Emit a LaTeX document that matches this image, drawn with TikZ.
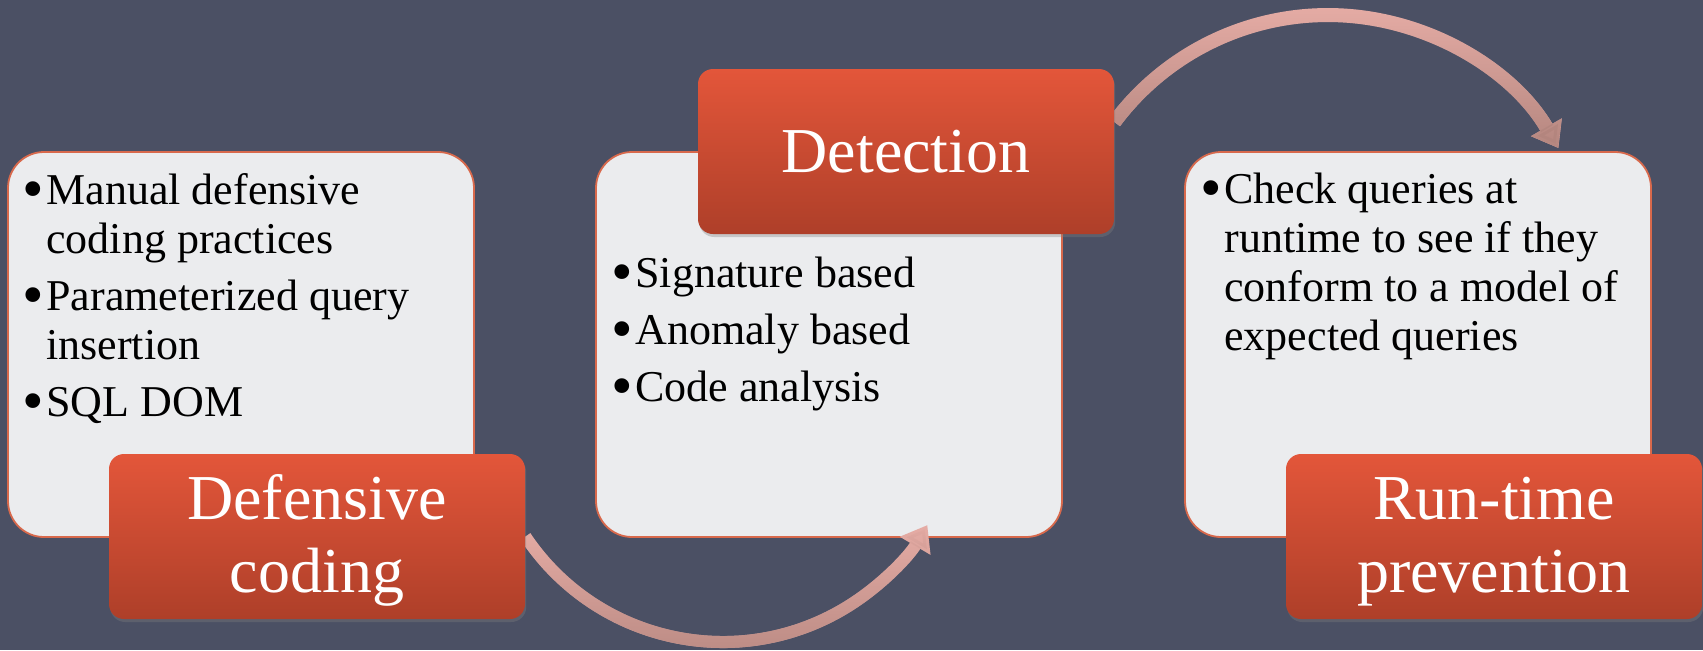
\documentclass[tikz,border=0pt]{standalone}
\usepackage{fontspec}
\setmainfont{Liberation Serif}
\usetikzlibrary{arrows.meta,shadows,fadings}
\definecolor{slate}{HTML}{4B5064}
\definecolor{cardgray}{HTML}{EBECEE}
\definecolor{cardline}{HTML}{D8694C}
\definecolor{redtop}{HTML}{E3563A}
\definecolor{redbot}{HTML}{AE3F29}
\definecolor{arrlight}{HTML}{E8AEA7}
\definecolor{arrdark}{HTML}{B3857E}
\tikzfading[name=fadeup,top color=transparent!100,bottom color=transparent!0]
\pgfdeclarelayer{back}
\pgfdeclarelayer{mid}
\pgfsetlayers{back,mid,main}
\newcommand{\itemtext}{\fontsize{22}{24.5}\selectfont}
\newcommand{\headtext}{\fontsize{32}{36.5}\selectfont}
\newcommand{\bul}{\raisebox{-2.6pt}{\scalebox{1.4}{\textbullet}}}
\newcommand{\headstrut}{\rule{0pt}{26.4pt}}

\begin{document}
\begin{tikzpicture}[x=0.5pt,y=-0.5pt,
  card/.style={draw=cardline,line width=0.9pt,fill=cardgray,rounded corners=18pt,
    minimum width=233pt,minimum height=192.5pt},
  head/.style={rounded corners=7.5pt,top color=redtop,bottom color=redbot,text=white,
    font=\headtext,align=center,minimum width=208pt,minimum height=82.5pt,
    drop shadow={shadow xshift=0.6pt,shadow yshift=-1.5pt,opacity=0.35}},
  items/.style={anchor=base west,inner sep=0pt,font=\itemtext},
  flow/.style={line width=7pt,draw=arrlight,-{Triangle[length=12pt 0,width=17pt 0]}},
  flowdark/.style={draw=arrdark,path fading=fadeup}]
  \useasboundingbox (0,0) rectangle (1703,650);
  \begin{pgfonlayer}{back}
  \fill[slate] (0,0) rectangle (1703,650);
  \node[card] (cdef) at (241,344.5) {};
  \node[card] (cdet) at (829,344.5) {};
  \node[card] (crun) at (1418,344.5) {};
  \end{pgfonlayer}
  \node[items] (ldef) at (22,204) {\begin{tabular}[t]{@{}p{12pt}@{}l@{}}
    \bul & Manual defensive\\ & coding practices\\[4pt]
    \bul & Parameterized query\\ & insertion\\[4pt]
    \bul & SQL DOM
  \end{tabular}};
  \node[items] (ldet) at (611,287) {\begin{tabular}[t]{@{}p{12pt}@{}l@{}}
    \bul & Signature based\\[4pt]
    \bul & Anomaly based\\[4pt]
    \bul & Code analysis
  \end{tabular}};
  \node[items] (lrun) at (1200,203) {\begin{tabular}[t]{@{}p{12pt}@{}l@{}}
    \bul & Check queries at\\ & runtime to see if they\\
    & conform to a model of\\ & expected queries
  \end{tabular}};
  \node[head] (def) at (317,536.5) {\headstrut Defensive\\coding};
  \node[head] (det) at (906,151.5) {Detection};
  \node[head] (run) at (1494,536.5) {\headstrut Run-time\\prevention};
  \begin{pgfonlayer}{mid}
  \draw[flow] ([yshift=14.75pt]det.east) arc[start angle=-143.24,end angle=-30.05,radius=266.4];
  \draw[flow,flowdark] ([yshift=14.75pt]det.east) arc[start angle=-143.24,end angle=-30.05,radius=266.4];
  \draw[flow,line width=6pt] (def.east) arc[start angle=146.25,end angle=30.5,radius=237.4];
  \draw[flow,flowdark,line width=6pt] (def.east) arc[start angle=146.25,end angle=30.5,radius=237.4];
  \end{pgfonlayer}
\end{tikzpicture}
\end{document}
